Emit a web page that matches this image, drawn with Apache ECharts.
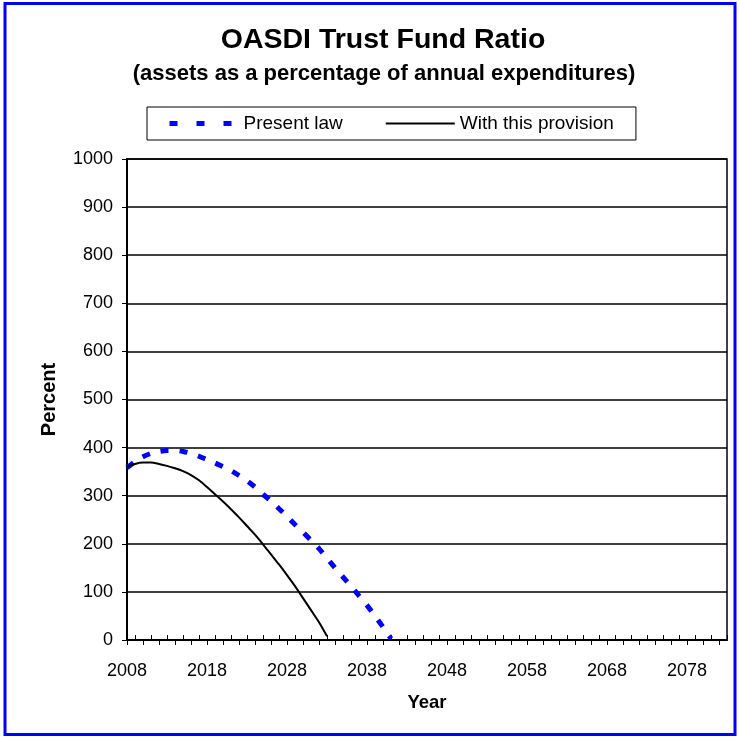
<!DOCTYPE html>
<html>
<head>
<meta charset="utf-8">
<title>OASDI Trust Fund Ratio</title>
<script src="https://cdn.jsdelivr.net/npm/echarts@6/dist/echarts.min.js"></script>
<style>
	html, body { margin:0; padding:0; background:#fff; }
	#chart { width:740px; height:739px; }
</style>
</head>
<body>
<div id="chart"></div>
<script>
	//年份 2008-2083
	var years = [];
	for (var y = 2008; y <= 2083; y++) {
		years.push(y + "");
	}
	//现行法律
	var presentLaw = [358, 371, 381, 388, 392, 394, 394, 392, 388, 382,
		375, 368, 360, 352, 342, 331, 318, 303, 289, 273,
		257, 240, 224, 207, 190, 170, 150, 131, 112, 92,
		72, 50, 27, 3];
	//含此条款
	var withProvision = [360, 366, 369, 369, 366, 362, 357, 351, 343, 332,
		318, 303, 288, 272, 255, 237, 219, 199, 178, 157,
		135, 112, 87, 62, 37, 8];
	var yTicks = { min: 0, max: 1000, step: 100 };

	var font = "Arial, 'Liberation Sans', sans-serif";

	var option = {
		animation: false,
		backgroundColor: '#fff',
		textStyle: { fontFamily: font, color: '#000' },
		graphic: [{
			type: 'rect',
			shape: { x: 5, y: 3.5, width: 730, height: 731 },
			style: { fill: 'none', stroke: '#0000ff', lineWidth: 3 },
			silent: true
		}],
		title: [{
			text: 'OASDI Trust Fund Ratio',
			left: 378, top: 21, textAlign: 'center',
			textStyle: { fontSize: 28.5, fontWeight: 'bold', color: '#000', fontFamily: font }
		}, {
			text: '(assets as a percentage of annual expenditures)',
			left: 379, top: 58, textAlign: 'center',
			textStyle: { fontSize: 22, fontWeight: 'bold', color: '#000', fontFamily: font }
		}],
		legend: {
			left: 147, top: 107,
			padding: [7, 22, 7, 20],
			borderColor: '#000', borderWidth: 1,
			itemWidth: 69, itemHeight: 14, itemGap: 42,
			itemStyle: { opacity: 0 },
			textStyle: { fontSize: 19, color: '#000', lineHeight: 19, fontFamily: font },
			data: [
				{ name: 'Present law', lineStyle: { type: [8, 19], width: 5, cap: 'butt' } },
				{ name: 'With this provision', lineStyle: { width: 2 } }
			]
		},
		grid: {
			left: 127, right: 13, top: 159, bottom: 99,
			show: true, borderColor: '#000', borderWidth: 1.5
		},
		xAxis: [{
			type: 'category',
			data: years,
			boundaryGap: false,
			name: 'Year', nameLocation: 'middle', nameGap: 53,
			nameTextStyle: { fontSize: 18.5, fontWeight: 'bold', color: '#000' },
			axisLine: { lineStyle: { color: '#000', width: 2 } },
			axisTick: { interval: function (i) { return i % 2 == 0; }, length: 5, lineStyle: { color: '#000', width: 1 } },
			axisLabel: { interval: 9, fontSize: 18, color: '#000', margin: 22 },
			splitLine: { show: false }
		}, {
			type: 'category',
			data: years,
			boundaryGap: false,
			position: 'bottom',
			axisLine: { show: false },
			axisTick: { inside: true, interval: function (i) { return i % 2 == 1; }, length: 5, lineStyle: { color: '#000', width: 1 } },
			axisLabel: { show: false },
			splitLine: { show: false }
		}],
		yAxis: {
			type: 'value',
			min: yTicks.min, max: yTicks.max, interval: yTicks.step,
			name: 'Percent', nameLocation: 'middle', nameGap: 68, nameRotate: 90,
			nameTextStyle: { fontSize: 20, fontWeight: 'bold', color: '#000' },
			axisLine: { show: true, lineStyle: { color: '#000', width: 2 } },
			axisTick: { show: true, length: 5, lineStyle: { color: '#000', width: 1 } },
			axisLabel: { fontSize: 18, color: '#000', margin: 14, formatter: function (v) { return v + ''; } },
			splitLine: { lineStyle: { color: '#000', width: 1.5 } }
		},
		series: [{
			name: 'Present law',
			type: 'line',
			data: presentLaw,
			symbol: 'none',
			smooth: 0.3,
			z: 3,
			lineStyle: { color: '#0000ff', width: 5, type: [8, 11], cap: 'butt' },
			itemStyle: { color: '#0000ff' }
		}, {
			name: 'With this provision',
			type: 'line',
			data: withProvision,
			symbol: 'none',
			smooth: 0.3,
			z: 4,
			lineStyle: { color: '#000', width: 2 },
			itemStyle: { color: '#000' }
		}]
	};

	var myChart = echarts.init(document.getElementById('chart'), null, { renderer: 'canvas' });
	myChart.setOption(option);
</script>
</body>
</html>
